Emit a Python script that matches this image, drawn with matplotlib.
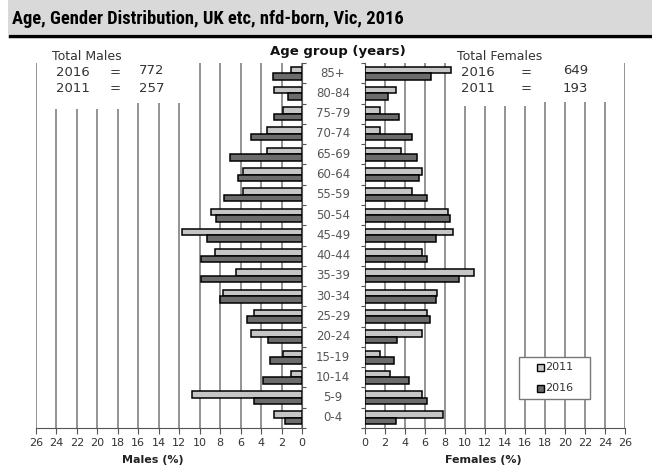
import matplotlib
matplotlib.use("Agg")
import matplotlib.pyplot as plt
from matplotlib.patches import Rectangle
from matplotlib import font_manager as fm
import numpy as np

# ---------------- datos ----------------
ages = ["0-4", "5-9", "10-14", "15-19", "20-24", "25-29", "30-34", "35-39", "40-44",
        "45-49", "50-54", "55-59", "60-64", "65-69", "70-74", "75-79", "80-84", "85+"]
males_2011 = [2.7, 10.8, 1.1, 1.9, 5.0, 4.7, 7.7, 6.5, 8.5, 11.7, 8.9, 5.8, 5.8, 3.4, 3.4, 1.9, 2.7, 1.1]
males_2016 = [1.7, 4.7, 3.8, 3.1, 3.3, 5.4, 8.0, 9.9, 9.9, 9.3, 8.4, 7.6, 6.3, 7.0, 5.0, 2.7, 1.4, 2.8]
females_2011 = [7.8, 5.7, 2.5, 1.5, 5.7, 6.2, 7.2, 10.9, 5.7, 8.8, 8.3, 4.7, 5.7, 3.6, 1.5, 1.5, 3.1, 8.6]
females_2016 = [3.1, 6.2, 4.4, 2.9, 3.2, 6.5, 7.1, 9.4, 6.2, 7.1, 8.5, 6.2, 5.4, 5.2, 4.7, 3.4, 2.3, 6.6]
tot_m = {"2016": 772, "2011": 257}
tot_f = {"2016": 649, "2011": 193}
years = ["2011", "2016"]
xticks = list(range(0, 27, 2))
title = "Age, Gender Distribution, UK etc, nfd-born, Vic, 2016"

C11, C16 = "#c6c6c6", "#6c6c6c"
GRID = "#8a8a8a"
TXT = "#333333"

# fuente estrecha para el titulo, si hay alguna
def narrow_font():
    cands = [dict(family="Liberation Sans Narrow"), dict(family="Noto Sans", stretch="extra-condensed"),
             dict(family="Roboto Condensed"), dict(family="Open Sans Condensed"),
             dict(family="Noto Sans", stretch="condensed"), dict(family="Roboto", stretch="condensed"),
             dict(family="Open Sans", stretch="condensed")]
    for c in cands:
        fp = fm.FontProperties(weight="bold", **c)
        try:
            f = fm.findfont(fp, fallback_to_default=False)
        except Exception:
            continue
        low = f.lower()
        if "narrow" in low or "condensed" in low:
            return fp
    return fm.FontProperties(family="Liberation Sans", weight="bold")

W, H = 652, 472
fig = plt.figure(figsize=(W / 100, H / 100), dpi=100)

def px(x0, y0, x1, y1):
    return [x0 / W, 1 - y1 / H, (x1 - x0) / W, (y1 - y0) / H]

# banda de titulo
fig.patches.append(Rectangle((8 / W, 1 - 34 / H), 1, 34 / H, transform=fig.transFigure,
                             facecolor="#d9d9d9", edgecolor="none"))
fig.add_artist(plt.Line2D([10 / W, 650 / W], [1 - 35.5 / H, 1 - 35.5 / H], color="black", lw=2.5))
tfp = narrow_font()
tfp.set_size(15)
tt = fig.text(12 / W, 1 - 19 / H, title, fontproperties=tfp, va="center", ha="left")
# ajustar al ancho del original (~391 px), sin pasar de 16 pt
r = fig.canvas.get_renderer()
wpx = tt.get_window_extent(r).width
tt.set_fontsize(min(16, 15 * 391 / wpx))

axL = fig.add_axes(px(36, 63, 302, 428))
axR = fig.add_axes(px(365, 63, 625, 428))
y = np.arange(len(ages))
h = 0.32

def panel(ax, v11, v16, side):
    for xv in xticks:
        ax.axvline(xv, color=GRID, lw=1.3, zorder=0)
    ax.barh(y + h / 2, v11, height=h, color=C11, edgecolor="black", lw=1.1, zorder=3)
    ax.barh(y - h / 2, v16, height=h, color=C16, edgecolor="black", lw=1.1, zorder=3)
    ax.set_xlim(0, 26)
    ax.set_ylim(-0.5, len(ages) - 0.5)
    ax.set_xticks(xticks)
    ax.set_xticklabels([str(t) for t in xticks], fontsize=8, color=TXT)
    ax.tick_params(axis="x", length=4, color="#555555", pad=3)
    ax.set_yticks(np.arange(len(ages) + 1) - 0.5)
    ax.set_yticklabels([])
    ax.tick_params(axis="y", length=3, color="#555555")
    ax.spines["top"].set_visible(False)
    ax.spines["bottom"].set_color("#555555")
    if side == "L":
        ax.invert_xaxis()
        ax.spines["left"].set_visible(False)
        ax.spines["right"].set_color("#555555")
        ax.yaxis.tick_right()
        # caja blanca detras del texto de totales
        ax.add_patch(Rectangle((11, 15.53), 14.3, 2.1, facecolor="white", edgecolor="none", zorder=1))
        ax.add_patch(Rectangle((17, 15.23), 8.3, 0.4, facecolor="white", edgecolor="none", zorder=1))
    else:
        ax.spines["right"].set_visible(False)
        ax.spines["left"].set_color("#555555")
        ax.add_patch(Rectangle((9, 15.58), 16.3, 2.1, facecolor="white", edgecolor="none", zorder=1))
        ax.add_patch(Rectangle((9, 15.38), 8, 0.3, facecolor="white", edgecolor="none", zorder=1))

panel(axL, males_2011, males_2016, "L")
panel(axR, females_2011, females_2016, "R")

axL.set_xlabel("Males (%)", fontsize=8, weight="bold", color="#222222")
axL.xaxis.set_label_coords((153 - 36) / 266, -0.075)
axR.set_xlabel("Females (%)", fontsize=8, weight="bold", color="#222222")
axR.xaxis.set_label_coords((483 - 365) / 260, -0.075)

# etiquetas de edad en el centro
for i, a in enumerate(ages):
    yy = axL.transData.transform((0, i))[1]
    fig.text(333 / W, yy / H, a, ha="center", va="center", fontsize=8.5, color="#555555")

fig.text(338 / W, 1 - 52 / H, "Age group (years)", ha="center", va="center",
         fontsize=9.5, weight="bold", color="#111111")

# totales
def totals(x0, title, d, xeq, xval):
    fig.text(x0 / W, 1 - 57 / H, title, ha="left", va="center", fontsize=9, color=TXT)
    for k, yy, yv in [("2016", 73, 70), ("2011", 89, 88)]:
        fig.text((x0 + 4) / W, 1 - yy / H, k, ha="left", va="center", fontsize=9.5, color=TXT)
        fig.text(xeq / W, 1 - yy / H, "=", ha="left", va="center", fontsize=9.5, color=TXT)
        fig.text(xval / W, 1 - yv / H, str(d[k]), ha="left", va="center", fontsize=9.5, color=TXT)

totals(52, "Total Males", tot_m, 110, 139)
totals(457, "Total Females", tot_f, 521, 563)

# leyenda (dibujada a mano: caja, cuadrados, textos)
fig.patches.append(Rectangle((519 / W, 1 - 399 / H), 71 / W, 42 / H, transform=fig.transFigure,
                             facecolor="white", edgecolor="#777777", lw=1.0, zorder=5))
for yr, col, yy in [(years[0], C11, 367), (years[1], C16, 388)]:
    fig.patches.append(Rectangle((537 / W, 1 - (yy + 3.5) / H), 6.5 / W, 6.5 / H,
                                 transform=fig.transFigure, facecolor=col, edgecolor="black",
                                 lw=1.0, zorder=6))
    fig.text(545 / W, 1 - yy / H, yr, ha="left", va="center", fontsize=8, color=TXT, zorder=7)

fig.savefig("out.png", dpi=100)
